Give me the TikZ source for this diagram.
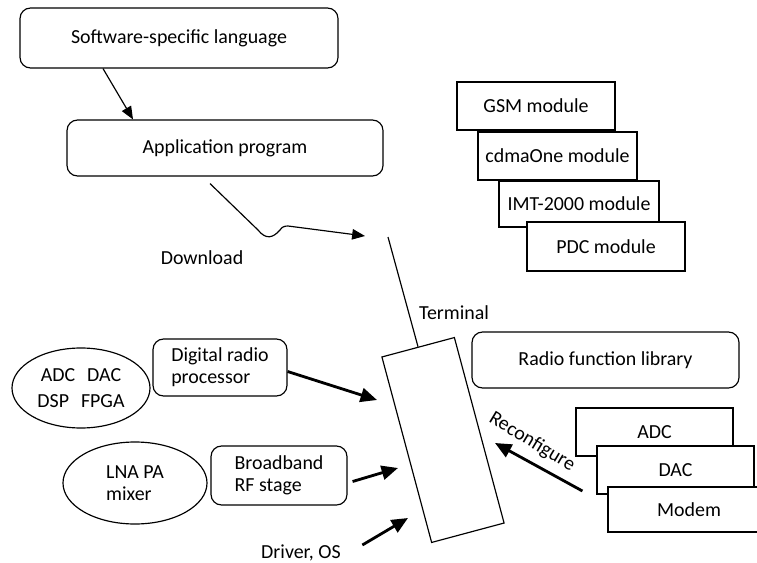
\documentclass[tikz,border=0pt]{standalone}
\usepackage{fontspec}
\setmainfont{Carlito}
\usepackage{tikz}
\usetikzlibrary{arrows.meta,positioning,shapes.geometric}

\begin{document}
\begin{tikzpicture}[x=0.03cm,y=-0.03cm,line width=1pt,
    font=\fontsize{17}{19}\selectfont,
    roundbox/.style={draw,rounded corners=9pt,align=left,inner sep=0pt},
    modbox/.style={draw,fill=white,inner sep=0pt},
    partsblob/.style={draw,ellipse,inner sep=0pt},
    linkarrow/.style={-{Triangle[length=11pt,width=9pt]}},
    feedarrow/.style={-{Triangle[length=14pt,width=12pt]},line width=2.4pt}]
  \useasboundingbox (0,0) rectangle (757,563);
  % software side
  \node[roundbox,minimum width=9.54cm,minimum height=1.8cm] (ssl) at (179,38) {Software-specific language};
  \node[roundbox,minimum width=9.48cm,minimum height=1.68cm] (app) at (225,148) {Application program};
  \draw[linkarrow] ([shift={(-76,0)}]ssl.south) -- ([shift={(-92,0)}]app.north);
  % air interface modules, stacked
  \node[modbox,minimum width=4.74cm,minimum height=1.44cm] (gsm) at (536,106) {GSM module};
  \node[modbox,minimum width=4.77cm,minimum height=1.44cm] (cdma) at (557.5,156) {cdmaOne module};
  \node[modbox,minimum width=4.80cm,minimum height=1.38cm] (imt) at (579,204) {IMT-2000 module};
  \node[modbox,minimum width=4.74cm,minimum height=1.47cm] (pdc) at (606,246.5) {PDC module};
  % terminal with antenna
  \node[draw,inner sep=0pt,minimum width=2.25cm,minimum height=5.76cm,rotate=15] (term) at (443,440) {};
  \coordinate (ant) at (388,237);
  \draw (term.north) -- (ant);
  \node[inner sep=0pt] (termlbl) at (454,313) {Terminal};
  \coordinate (dlend) at (365,236);
  \draw[linkarrow] ([shift={(-15,7)}]app.south) -- (258,230)
    .. controls (266,240) and (273,238) .. (280,230)
    .. controls (282,227) and (284,226) .. (288,226) -- (dlend);
  \node[inner sep=0pt] (dl) at (202,258) {Download};
  % hardware side
  \node[partsblob,minimum width=4.14cm,minimum height=2.4cm,align=center] (dig) at (81,388) {ADC\hspace{0.6em}DAC\\[3pt]DSP\hspace{0.6em}FPGA};
  \node[roundbox,minimum width=4.02cm,minimum height=1.71cm] (drp) at (220,367.5) {Digital radio\\processor};
  \node[partsblob,minimum width=4.32cm,minimum height=2.46cm,align=left] (rf) at (135,483) {LNA PA\\mixer};
  \node[roundbox,minimum width=4.08cm,minimum height=1.77cm] (bb) at (279,475.5) {Broadband\\RF stage};
  \node[inner sep=0pt] (drv) at (301,553) {Driver, OS};
  \coordinate (drpend) at (377,400);
  \coordinate (bbend) at (398,468);
  \coordinate (drvend) at (408,518);
  \draw[feedarrow] ([shift={(0,4)}]drp.east) -- (drpend);
  \draw[feedarrow] ([shift={(5,6)}]bb.east) -- (bbend);
  \draw[feedarrow] ([shift={(21,-8)}]drv.east) -- (drvend);
  % radio function library
  \node[roundbox,minimum width=8.01cm,minimum height=1.68cm] (rfl) at (605.5,360) {Radio function library};
  \node[modbox,minimum width=4.71cm,minimum height=1.44cm] (adc) at (654.5,432) {ADC};
  \node[modbox,minimum width=4.71cm,minimum height=1.44cm] (dac) at (675.5,470) {DAC};
  \node[modbox,minimum width=4.86cm,minimum height=1.35cm] (modem) at (689,509.5) {Modem};
  \coordinate (rcfend) at (495,443);
  \draw[feedarrow] ([shift={(-14,21)}]dac.west) -- (rcfend);
  \node[inner sep=0pt,rotate=-31] (rcf) at (532,442) {Reconfigure};
\end{tikzpicture}
\end{document}
